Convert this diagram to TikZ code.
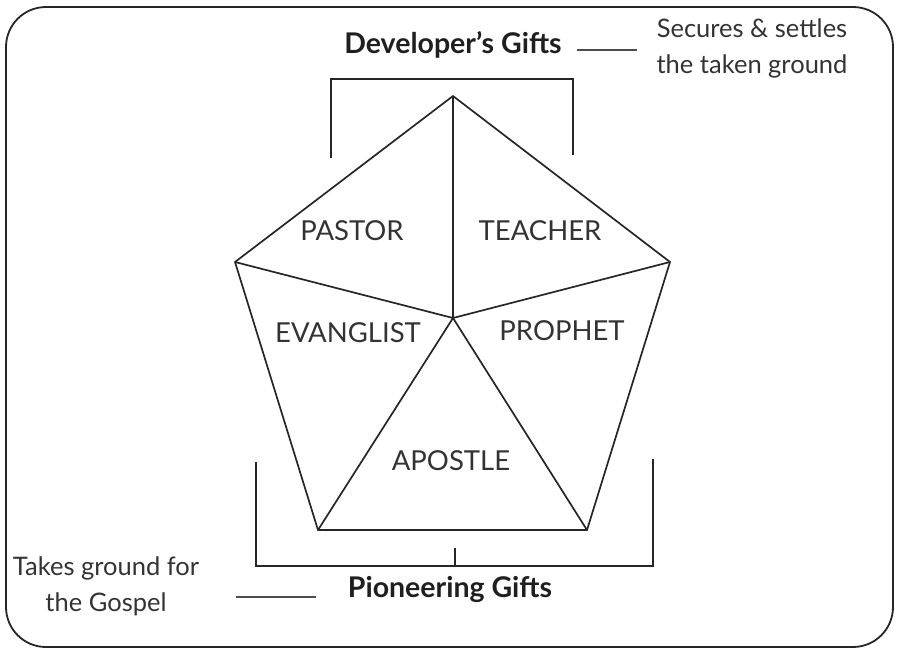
\documentclass[tikz,border=0pt]{standalone}
\usepackage{fontspec}
\setmainfont{Lato}
\begin{document}
\begin{tikzpicture}[x=1pt,y=-1pt,
  edge/.style={line width=1.7pt,draw=black!85,line join=miter},
  lbl/.style={font=\fontsize{27.5}{30}\selectfont,text=black!80,inner sep=0pt},
  head/.style={font=\fontsize{28.5}{30}\selectfont\bfseries,text=black!88,inner sep=0pt},
  note/.style={font=\fontsize{25.5}{36}\selectfont,text=black!80,inner sep=0pt,align=center},
  guide/.style={line width=1.2pt,draw=black!70}]
\useasboundingbox (0,0) rectangle (899,651);
\draw[line width=1.8pt,black!85,rounded corners=40pt] (6,7) rectangle (893,647);
% pentagon vertices
\coordinate (T) at (453,96);
\coordinate (L) at (235,262);
\coordinate (R) at (670,262);
\coordinate (BL) at (318,530);
\coordinate (BR) at (587,530);
\coordinate (C) at (453,318);
\draw[edge] (T) -- (R) -- (BR) -- (BL) -- (L) -- cycle;
\draw[edge] (C) -- (T) (C) -- (L) (C) -- (R) (C) -- (BL) (C) -- (BR);
% labels
\node[lbl] (pastor) at (352,231) {PASTOR};
\node[lbl] (teacher) at (540,231) {TEACHER};
\node[lbl] (evan) at (348,333) {EVANGLIST};
\node[lbl] (prophet) at (562,331) {PROPHET};
\node[lbl] (apostle) at (451,461) {APOSTLE};
% top bracket
\coordinate (tb1) at (331,158);
\coordinate (tb2) at (331,79);
\coordinate (tb3) at (573,79);
\coordinate (tb4) at (573,155);
\draw[edge] (tb1) -- (tb2) -- (tb3) -- (tb4);
\node[head] (dev) at (453,45) {Developer’s Gifts};
\node[note] (secure) at (752,48) {Secures \& settles\\the taken ground};
\coordinate (dl1) at (577,50);
\coordinate (dl2) at (637,50);
\draw[guide] (dl1) -- (dl2);
% bottom bracket
\coordinate (bb1) at (256,462);
\coordinate (bb2) at (256,566);
\coordinate (bb3) at (653,566);
\coordinate (bb4) at (653,459);
\coordinate (bm1) at (455,548);
\coordinate (bm2) at (455,566);
\draw[edge] (bb1) -- (bb2) -- (bb3) -- (bb4);
\draw[edge] (bm1) -- (bm2);
\node[head] (pio) at (450,589) {Pioneering Gifts};
\node[note] (takes) at (106,586) {Takes ground for\\the Gospel};
\coordinate (pl1) at (236,597);
\coordinate (pl2) at (316,597);
\draw[guide] (pl1) -- (pl2);
\end{tikzpicture}
\end{document}
